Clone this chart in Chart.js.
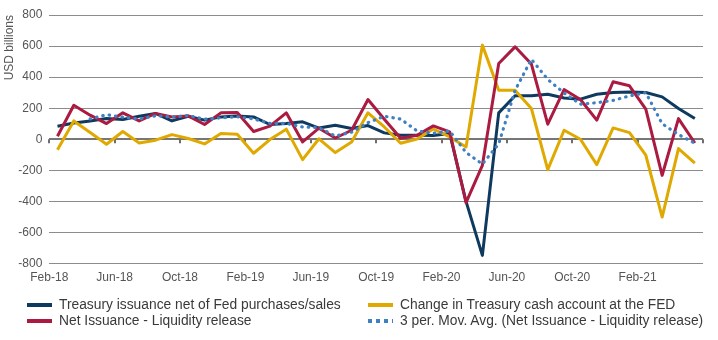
<!DOCTYPE html>
<html><head><meta charset="utf-8">
<script src="https://cdn.jsdelivr.net/npm/chart.js@4.4.0/dist/chart.umd.min.js"></script>
<style>
html,body{margin:0;padding:0;background:#fff;}
#wrap{position:relative;width:718px;height:340px;overflow:hidden;}
#legend{position:absolute;left:0;top:0;width:718px;height:340px;pointer-events:none;font-family:'Liberation Sans',Arial,sans-serif;font-size:13.8px;color:#3a3a3a;}
.item{position:absolute;display:flex;align-items:center;white-space:nowrap;height:16px;line-height:16px;}
.sw{width:25px;height:4px;margin-right:7px;flex:none;}
</style></head>
<body><div id="wrap"><canvas id="c" width="718" height="340"></canvas><div id="legend"></div></div>
<script>
const months = ['Feb-18','Mar-18','Apr-18','May-18','Jun-18','Jul-18','Aug-18','Sep-18','Oct-18','Nov-18','Dec-18','Jan-19',
  'Feb-19','Mar-19','Apr-19','May-19','Jun-19','Jul-19','Aug-19','Sep-19','Oct-19','Nov-19','Dec-19','Jan-20',
  'Feb-20','Mar-20','Apr-20','May-20','Jun-20','Jul-20','Aug-20','Sep-20','Oct-20','Nov-20','Dec-20','Jan-21',
  'Feb-21','Mar-21','Apr-21','May-21'];
const tickLabels = ['Feb-18','Jun-18','Oct-18','Feb-19','Jun-19','Oct-19','Feb-20','Jun-20','Oct-20','Feb-21'];
const treasuryNet = [84,105,118,133,127,148,166,118,148,123,144,150,144,95,101,112,72,90,69,88,41,26,26,24,37,-400,-748,170,280,280,290,266,258,290,301,305,301,273,198,133];
const cashAccount = [-67,118,43,-32,50,-24,-6,30,5,-30,37,32,-90,-2,65,-131,3,-86,-17,170,79,-26,2,66,15,-50,606,316,316,198,-196,58,0,-163,73,43,-103,-501,-60,-153];
const netIssuance = [19,219,155,101,170,118,166,144,150,95,170,172,50,85,170,-17,71,8,58,256,129,6,26,86,47,-408,-168,488,595,484,97,320,256,123,370,344,194,-232,133,-24];
const movAvg = [null,null,131,158,142,130,151,143,153,129,138,145,131,102,102,79,75,21,46,107,148,130,54,39,53,-85,-160,-30,315,515,385,298,226,235,250,279,300,100,30,-25];
const yTicks = {min:-800, max:800, step:200};

const toXY = arr => arr.map((v,i)=>({x:i, y:v}));
const FONT = "'Liberation Sans', Arial, sans-serif";

const zeroTicks = {
  id:'zeroTicks',
  beforeDatasetsDraw(chart){
    const {ctx, scales:{x,y}} = chart;
    const y0 = y.getPixelForValue(0);
    ctx.save();
    ctx.strokeStyle = '#6e6e6e'; ctx.lineWidth = 2;
    x.ticks.forEach(t=>{
      const px = Math.round(x.getPixelForValue(t.value));
      ctx.beginPath(); ctx.moveTo(px, y0); ctx.lineTo(px, y0+4); ctx.stroke();
    });
    ctx.restore();
  }
};

const datasets = [
  {label:'Treasury issuance net of Fed purchases/sales', data:toXY(treasuryNet), borderColor:'#0f3a5f', borderWidth:3, order:3},
  {label:'Change in Treasury cash account at the FED', data:toXY(cashAccount), borderColor:'#e0a900', borderWidth:3, order:2},
  {label:'Net Issuance - Liquidity release', data:toXY(netIssuance), borderColor:'#ab1a40', borderWidth:3, order:1},
  {label:'3 per. Mov. Avg. (Net Issuance - Liquidity release)', data:toXY(movAvg), borderColor:'#3f80c2', borderWidth:3.2, borderDash:[0.5,6], borderCapStyle:'round', order:0, dotted:true}
];

const chart = new Chart(document.getElementById('c'), {
  type:'line',
  data:{datasets: datasets.map(d=>Object.assign({fill:false, tension:0, pointRadius:0, pointHoverRadius:0, spanGaps:false, borderJoinStyle:'round'}, d))},
  options:{
    responsive:false, animation:false, devicePixelRatio:1,
    layout:{padding:{top:15, right:15, bottom:55, left:0}},
    plugins:{legend:{display:false}, tooltip:{enabled:false}},
    scales:{
      x:{type:'linear', min:-0.5, max:39.5,
        afterFit:s=>{ s.height = 21.5; },
        grid:{display:false, drawTicks:false}, border:{display:false},
        ticks:{stepSize:4, autoSkip:false, maxRotation:0, padding:7, color:'#555', font:{family:FONT, size:12},
          callback:(v)=>{ const k=Math.round((v+0.5)/4); return tickLabels[k] ?? ''; }}
      },
      y:{min:yTicks.min, max:yTicks.max,
        afterFit:s=>{ s.width = 49.3; },
        grid:{drawTicks:false, color:c=>c.tick.value===0?'#777':'#8c8c8c', lineWidth:c=>c.tick.value===0?2:1},
        border:{display:false},
        ticks:{stepSize:yTicks.step, padding:7, color:'#555', font:{family:FONT, size:12}},
        title:{display:true, text:'USD billions', align:'end', color:'#555', font:{family:FONT, size:12}, padding:{top:2,bottom:0}}
      }
    }
  },
  plugins:[zeroTicks]
});

// HTML legend, two columns
const leg = document.getElementById('legend');
const pos = [[27,297],[368,297],[27,313],[368,313]];
[0,1,2,3].forEach((di,k)=>{
  const d = chart.data.datasets[di];
  const it = document.createElement('div'); it.className='item';
  it.style.left = pos[k][0]+'px'; it.style.top = pos[k][1]+'px';
  const sw = document.createElement('span'); sw.className='sw';
  if (d.dotted) sw.style.background = 'repeating-linear-gradient(to right,'+d.borderColor+' 0 4px, transparent 4px 8px)';
  else sw.style.background = d.borderColor;
  const tx = document.createElement('span'); tx.textContent = d.label;
  it.appendChild(sw); it.appendChild(tx); leg.appendChild(it);
});
</script>
</body></html>
